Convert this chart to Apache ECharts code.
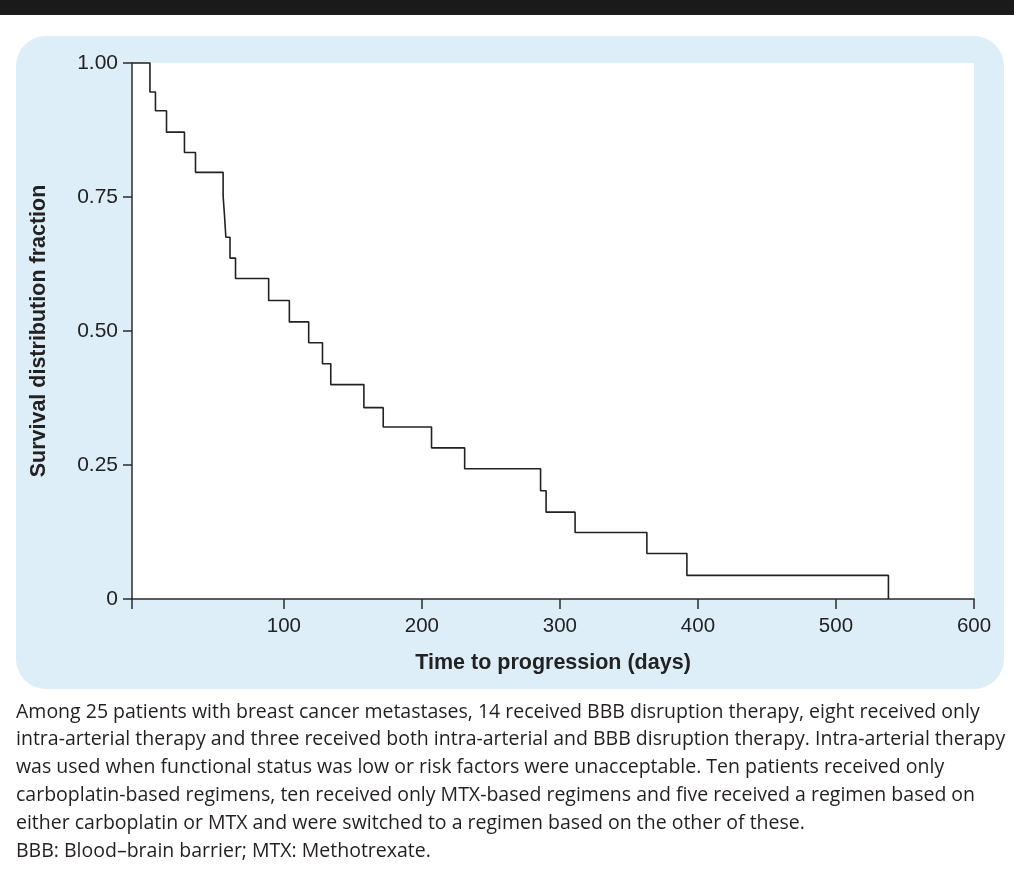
<!DOCTYPE html>
<html>
<head>
<meta charset="utf-8">
<script src="https://cdn.jsdelivr.net/npm/echarts@6/dist/echarts.min.js"></script>
<style>
html,body{margin:0;padding:0;background:#fff;}
#chart{width:1014px;height:882px;}
</style>
</head>
<body>
<div id="chart"></div>
<script>
// Kaplan-Meier step data
const timesDays = [-10, 3, 7, 15, 28, 36, 56, 57, 58, 61, 65, 89, 104, 118, 128, 134, 158, 172, 207, 231, 286, 290, 311, 363, 392, 538];
const survivalFraction = [1.00, 0.946, 0.911, 0.871, 0.833, 0.796, 0.752, 0.716, 0.675, 0.636, 0.598, 0.557, 0.517, 0.478, 0.439, 0.400, 0.357, 0.321, 0.282, 0.243, 0.202, 0.162, 0.124, 0.085, 0.044, 0];
const xTickLabels = [100, 200, 300, 400, 500, 600];
const xTickMarks = [-10, 100, 200, 300, 400, 500, 600];
const yTickLabels = [0, 0.25, 0.5, 0.75, 1.0];
const xAxisTitle = 'Time to progression (days)';
const yAxisTitle = 'Survival distribution fraction';
const captionLines = [
  'Among 25 patients with breast cancer metastases, 14 received BBB disruption therapy, eight received only',
  'intra-arterial therapy and three received both intra-arterial and BBB disruption therapy. Intra-arterial therapy',
  'was used when functional status was low or risk factors were unacceptable. Ten patients received only',
  'carboplatin-based regimens, ten received only MTX-based regimens and five received a regimen based on',
  'either carboplatin or MTX and were switched to a regimen based on the other of these.',
  'BBB: Blood\u2013brain barrier; MTX: Methotrexate.'
];

const chart = echarts.init(document.getElementById('chart'), null, {renderer: 'canvas'});
const axisFont = '"Liberation Sans", Arial, Helvetica, sans-serif';
const captionFont = '"Open Sans", "Noto Sans", sans-serif';

const graphics = [
  {type: 'rect', z: -10, shape: {x: 0, y: 0, width: 1014, height: 15}, style: {fill: '#1a1a1a'}, silent: true},
  {type: 'rect', z: -10, shape: {x: 16, y: 36, width: 988, height: 653, r: 30}, style: {fill: '#deeef9'}, silent: true}
];
captionLines.forEach(function (line, i) {
  graphics.push({
    type: 'text', left: 16, top: 702 + i * 27.8, silent: true,
    style: {text: line, fill: '#231f20', font: '19.5px ' + captionFont}
  });
});

const seriesData = timesDays.map(function (t, i) { return [t, survivalFraction[i]]; });

chart.setOption({
  animation: false,
  graphic: graphics,
  grid: {left: 132, right: 40, top: 63, bottom: 283, show: true, backgroundColor: '#ffffff', borderWidth: 0, containLabel: false},
  xAxis: {
    type: 'value', min: -10, max: 600,
    splitLine: {show: false},
    axisLine: {show: true, onZero: false, lineStyle: {color: '#2b2b2b', width: 1.5}},
    axisTick: {show: true, length: 10, lineStyle: {color: '#2b2b2b', width: 1.5}, customValues: xTickMarks},
    axisLabel: {customValues: xTickLabels, color: '#222', fontSize: 20.5, fontFamily: axisFont, margin: 17},
    name: xAxisTitle, nameLocation: 'middle', nameGap: 53,
    nameTextStyle: {color: '#222', fontSize: 21.5, fontWeight: 'bold', fontFamily: axisFont}
  },
  yAxis: {
    type: 'value', min: 0, max: 1, interval: 0.25,
    splitLine: {show: false},
    axisLine: {show: true, onZero: false, lineStyle: {color: '#2b2b2b', width: 1.5}},
    axisTick: {show: true, length: 9, lineStyle: {color: '#2b2b2b', width: 1.5}},
    axisLabel: {
      color: '#222', fontSize: 21, fontFamily: axisFont, margin: 14,
      formatter: function (v) { return v === 0 ? '0' : v.toFixed(2); }
    },
    name: yAxisTitle, nameLocation: 'middle', nameGap: 82, nameRotate: 90,
    nameTextStyle: {color: '#222', fontSize: 21.5, fontWeight: 'bold', fontFamily: axisFont}
  },
  series: [{
    type: 'line', step: 'end', data: seriesData, symbol: 'none',
    lineStyle: {color: '#222', width: 1.6}, clip: false
  }]
});
</script>
</body>
</html>
